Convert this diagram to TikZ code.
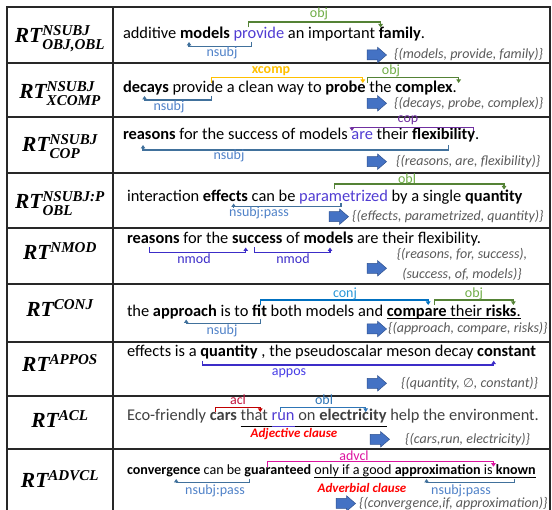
\documentclass[tikz,border=0pt]{standalone}
\usepackage{fontspec}
\usepackage{amsmath,amssymb}
\setmainfont{Carlito}
\newfontfamily\rtfont{Liberation Serif}
\newfontfamily\symfont{DejaVu Sans}
\usetikzlibrary{calc,arrows.meta}

\definecolor{gridc}{RGB}{40,40,40}
\definecolor{pred}{RGB}{80,60,210}
\definecolor{objln}{RGB}{84,130,53}
\definecolor{objtx}{RGB}{112,173,71}
\definecolor{subjln}{RGB}{65,113,156}
\definecolor{subjtx}{RGB}{80,130,200}
\definecolor{xcompc}{RGB}{255,192,0}
\definecolor{copc}{RGB}{112,48,160}
\definecolor{nmodc}{RGB}{60,45,200}
\definecolor{apposc}{RGB}{70,60,230}
\definecolor{conjln}{RGB}{0,112,192}
\definecolor{conjtx}{RGB}{40,150,215}
\definecolor{aclc}{RGB}{192,0,0}
\definecolor{acltx}{RGB}{192,20,60}
\definecolor{oblbl}{RGB}{46,117,182}
\definecolor{advclc}{RGB}{220,20,160}
\definecolor{clausered}{RGB}{255,0,0}
\definecolor{tripc}{RGB}{89,89,89}
\definecolor{barrow}{RGB}{68,114,196}
\definecolor{barrowln}{RGB}{47,82,143}
\definecolor{ecotext}{RGB}{64,64,64}

\newcommand\snt{\fontsize{16.4}{19}\selectfont}
\newcommand\sntsmall{\fontsize{14.1}{17}\selectfont}
\newcommand\lbl{\fontsize{14}{16}\selectfont}
\newcommand\trp{\fontsize{14}{16}\selectfont}
\newcommand\rtsz{\fontsize{21.5}{25}\selectfont}
\newcommand\rtb{\rtfont\bfseries\itshape}
\newcommand\RTsub[2]{{\rtb RT}$^{\text{\rtb #1}}_{\text{\rtb #2}}$}
\newcommand\RTsup[1]{{\rtb RT}$^{\text{\rtb #1}}$}
\newcommand\nullset{{\symfont\itshape\fontsize{12.5}{14}\selectfont ∅}}

\def\wspace{3.71}
% next word of a sentence, placed one space after the previous one
\newcommand\wn[4][w]{\node[#1] (#2) at ([xshift=\wspace]#3.base east) {#4};}
% a point at a fraction of a word's width, on its baseline
\newcommand\at[3]{\coordinate (#1) at ($(#2.base west)!#3!(#2.base east)$);}
% dependency bracket: style, from, to, end level, bar level
\newcommand\deparc[5]{\draw[#1] (#2 |- 0,#4) -- (#2 |- 0,#5) -| (#3 |- 0,#4);}
% thick block arrow whose tail centre is the named point
\newcommand\blockarrow[2]{\coordinate (#1) at (#2);
  \filldraw[blk] (#1) ++(0,-5) -- ++(10.5,0) -- ++(0,-2.8) -- ++(9,7.8)
    -- ++(-9,7.8) -- ++(0,-2.8) -- ++(-10.5,0) -- cycle;}

\tikzset{
  w/.style={inner sep=0pt, outer sep=0pt, anchor=base west, font=\snt},
  w8/.style={w, text=ecotext},
  w9/.style={w, font=\sntsmall},
  lab/.style={inner sep=0pt, font=\lbl},
  dep/.style={line width=1.2pt, -{Triangle[length=3.5pt,width=4.5pt]}},
  trip/.style={inner sep=0pt, anchor=west, font=\trp\itshape, text=tripc},
  blk/.style={fill=barrow, draw=barrowln, line width=0.5pt, line join=miter},
  rt/.style={anchor=base, inner sep=0pt, font=\rtsz},
  clause/.style={inner sep=0pt, font=\fontsize{13}{15}\selectfont\bfseries\itshape, text=clausered},
  rule/.style={draw=gridc, line width=1.1pt},
  uline/.style={line width=1pt},
}

\begin{document}
\begin{tikzpicture}[x=1pt, y=-1pt]
\useasboundingbox (0,0) rectangle (552,510);

% table frame
\draw[rule] (7,520) -- (7,7) -- (550,7) -- (550,520);
\draw[rule] (113,7) -- (113,520);
\foreach \yy in {63,117,173,228,284,342,396,449}
  \draw[rule] (7,\yy) -- (550,\yy);

% ---------------- row 1
\node[rt] (rt1) at (60,43) {\RTsub{NSUBJ}{OBJ,OBL}};
\node[w] (r1w1) at (123,39) {additive};
\wn{r1w2}{r1w1}{\textbf{models}}
\wn{r1w3}{r1w2}{\textcolor{pred}{provide}}
\wn{r1w4}{r1w3}{an important}
\wn{r1w5}{r1w4}{\textbf{family}.}
\at{r1a}{r1w3}{.3}
\at{r1b}{r1w5}{.04}
\at{r1c}{r1w3}{.36}
\at{r1d}{r1w2}{.18}
\deparc{dep,objln}{r1a}{r1b}{27.5}{22}
\deparc{dep,subjln}{r1c}{r1d}{42}{46.7}
\node[lab,text=objtx] (r1l1) at (319,14) {obj};
\node[lab,text=subjtx] (r1l2) at (222,53) {nsubj};
\blockarrow{r1ar}{367,55}
\node[trip] (r1t) at (394,55) {\{(models, provide, family)\}};

% ---------------- row 2
\node[rt] (rt2) at (60,99) {\RTsub{NSUBJ}{XCOMP}};
\node[w] (r2w1) at (123,93) {\textbf{decays}};
\wn{r2w2}{r2w1}{provide}
\wn{r2w3}{r2w2}{a clean way to}
\wn{r2w4}{r2w3}{\textbf{probe}}
\wn{r2w5}{r2w4}{the}
\wn{r2w6}{r2w5}{\textbf{complex}.}
\at{r2a}{r2w2}{.77}
\at{r2b}{r2w4}{.93}
\at{r2c}{r2w4}{1.05}
\at{r2d}{r2w6}{1.03}
\at{r2e}{r2w1}{.47}
\deparc{dep,xcompc}{r2a}{r2b}{83}{77.3}
\deparc{dep,objln}{r2c}{r2d}{83}{77.3}
\deparc{dep,subjln}{r2a}{r2e}{96}{100}
\node[lab,text=xcompc,font=\lbl\bfseries] (r2l1) at (271,70.7) {xcomp};
\node[lab,text=objtx] (r2l2) at (391,70.7) {obj};
\node[lab,text=subjtx] (r2l3) at (169,107.3) {nsubj};
\blockarrow{r2ar}{367,103.3}
\node[trip] (r2t) at (394,103.3) {\{(decays, probe, complex)\}};

% ---------------- row 3
\node[rt] (rt3) at (60,152) {\RTsub{NSUBJ}{COP}};
\node[w] (r3w1) at (123,139.5) {\textbf{reasons}};
\wn{r3w2}{r3w1}{for the success of models}
\wn{r3w3}{r3w2}{\textcolor{pred}{are}}
\wn{r3w4}{r3w3}{their}
\wn{r3w5}{r3w4}{\textbf{flexibility}.}
\at{r3a}{r3w5}{.91}
\at{r3b}{r3w3}{.02}
\at{r3c}{r3w5}{.54}
\at{r3d}{r3w1}{.38}
\deparc{dep,copc}{r3a}{r3b}{131}{127.3}
\deparc{dep,subjln}{r3c}{r3d}{145}{150}
\node[lab,text=copc] (r3l1) at (408,120) {cop};
\node[lab,text=subjtx] (r3l2) at (229,155.7) {nsubj};
\blockarrow{r3ar}{367,161.7}
\node[trip] (r3t) at (396,161.7) {\{(reasons, are, flexibility)\}};

% ---------------- row 4
\node[rt] (rt4) at (60,209) {\RTsub{NSUBJ:P}{OBL}};
\node[w] (r4w1) at (127,202) {interaction};
\wn{r4w2}{r4w1}{\textbf{effects}}
\wn{r4w3}{r4w2}{can be}
\wn{r4w4}{r4w3}{\textcolor{pred}{parametrized}}
\wn{r4w5}{r4w4}{by a single}
\wn{r4w6}{r4w5}{\textbf{quantity}}
\at{r4a}{r4w4}{.4}
\at{r4b}{r4w6}{.68}
\at{r4c}{r4w4}{.47}
\at{r4d}{r4w2}{.68}
\deparc{dep,objln}{r4a}{r4b}{189.5}{184}
\deparc{dep,subjln}{r4c}{r4d}{203.5}{206.7}
\node[lab,text=objtx] (r4l1) at (407,178.3) {obl};
\node[lab,text=subjtx] (r4l2) at (259,212.7) {nsubj:pass};
\blockarrow{r4ar}{329,216.7}
\node[trip] (r4t) at (352,216.7) {\{(effects, parametrized, quantity)\}};

% ---------------- row 5
\node[rt] (rt5) at (60,260) {\RTsup{NMOD}};
\node[w] (r5w1) at (127,244) {\textbf{reasons}};
\wn{r5w2}{r5w1}{for the}
\wn{r5w3}{r5w2}{\textbf{success}}
\wn{r5w4}{r5w3}{of}
\wn{r5w5}{r5w4}{\textbf{models}}
\wn{r5w6}{r5w5}{are their flexibility.}
\at{r5a}{r5w1}{.43}
\at{r5b}{r5w3}{.27}
\at{r5c}{r5w3}{.45}
\at{r5d}{r5w5}{.53}
\deparc{dep,nmodc}{r5a}{r5b}{247.5}{252.3}
\deparc{dep,nmodc}{r5c}{r5d}{247.5}{252.3}
\node[lab,text=nmodc] (r5l1) at (194,258.3) {nmod};
\node[lab,text=nmodc] (r5l2) at (293,258.3) {nmod};
\blockarrow{r5ar}{367,268.3}
\node[trip,anchor=center] (r5t1) at (462,254.5) {\{(reasons, for, success),};
\node[trip,anchor=center] (r5t2) at (462,274.5) {(success, of, models)\}};

% ---------------- row 6
\node[rt] (rt6) at (60,317) {\RTsup{CONJ}};
\node[w] (r6w1) at (127,316.5) {the};
\wn{r6w2}{r6w1}{\textbf{approach}}
\wn{r6w3}{r6w2}{is to}
\wn{r6w4}{r6w3}{\textbf{fit}}
\wn{r6w5}{r6w4}{both models and}
\wn{r6w6}{r6w5}{\textbf{compare}}
\wn{r6w7}{r6w6}{their}
\wn{r6w8}{r6w7}{\textbf{risks}.}
\at{r6a}{r6w4}{.55}
\at{r6b}{r6w6}{.69}
\at{r6c}{r6w6}{.8}
\at{r6d}{r6w8}{.79}
\at{r6e}{r6w2}{.52}
\deparc{dep,conjln}{r6a}{r6b}{305}{300}
\deparc{dep,objln}{r6c}{r6d}{305}{300}
\deparc{dep,subjln}{r6a}{r6e}{319.5}{323.3}
\draw[uline] (r6w6.base west |- 0,318.5) -- (r6w8.base east |- 0,318.5);
\node[lab,text=conjtx] (r6l1) at (345,294) {conj};
\node[lab,text=objtx] (r6l2) at (474,294) {obj};
\node[lab,text=subjtx] (r6l3) at (222,330.7) {nsubj};
\blockarrow{r6ar}{367,329}
\node[trip] (r6t) at (388,329) {\{(approach, compare, risks)\}};

% ---------------- row 7
\node[rt] (rt7) at (60,372) {\RTsup{APPOS}};
\node[w] (r7w1) at (127,356.5) {effects is a};
\wn{r7w2}{r7w1}{\textbf{quantity}}
\wn{r7w3}{r7w2}{, the pseudoscalar meson decay}
\wn{r7w4}{r7w3}{\textbf{constant}}
\at{r7a}{r7w2}{.04}
\at{r7b}{r7w4}{.28}
\deparc{dep,nmodc}{r7a}{r7b}{360.7}{365}
\node[lab,text=apposc] (r7l1) at (289,373.3) {appos};
\blockarrow{r7ar}{367,383.3}
\node[trip] (r7t) at (401,383.3) {\{(quantity, \nullset, constant)\}};

% ---------------- row 8
\node[rt] (rt8) at (60,428) {\RTsup{ACL}};
\node[w8] (r8w1) at (127,421) {Eco-friendly};
\wn[w8]{r8w2}{r8w1}{\textbf{cars}}
\wn[w8]{r8w3}{r8w2}{that}
\wn[w8]{r8w4}{r8w3}{\textcolor{pred}{run}}
\wn[w8]{r8w5}{r8w4}{on}
\wn[w8]{r8w6}{r8w5}{\textbf{electricity}}
\wn[w8]{r8w7}{r8w6}{help the environment.}
\at{r8a}{r8w2}{.2}
\at{r8b}{r8w3}{.72}
\at{r8c}{r8w4}{.4}
\at{r8d}{r8w6}{.69}
\deparc{dep,aclc}{r8a}{r8b}{412}{407.3}
\deparc{dep,oblbl}{r8c}{r8d}{412}{407.3}
\draw[uline] (r8w3.base west |- 0,427) -- (r8w6.base east |- 0,427);
\draw[uline,pred] (r8w4.base west |- 0,427) -- (r8w4.base east |- 0,427);
\node[lab,text=acltx] (r8l1) at (238,400) {acl};
\node[lab,text=oblbl] (r8l2) at (324,400) {obl};
\node[clause] (r8cl) at (294,434) {Adjective clause};
\blockarrow{r8ar}{370,439.3}
\node[trip] (r8t) at (405,439.3) {\{(cars,run, electricity)\}};

% ---------------- row 9
\node[rt] (rt9) at (60,488) {\RTsup{ADVCL}};
\def\wspace{3.19}
\node[w9] (r9w1) at (127,475) {\textbf{convergence}};
\wn[w9]{r9w2}{r9w1}{can be}
\wn[w9]{r9w3}{r9w2}{\textbf{guaranteed}}
\wn[w9]{r9w4}{r9w3}{only if a good}
\wn[w9]{r9w5}{r9w4}{\textbf{approximation}}
\wn[w9]{r9w6}{r9w5}{is}
\wn[w9]{r9w7}{r9w6}{\textbf{known}}
\at{r9a}{r9w3}{.35}
\at{r9b}{r9w6}{1.1}
\at{r9c}{r9w3}{.07}
\at{r9d}{r9w1}{.67}
\at{r9e}{r9w7}{.46}
\at{r9f}{r9w5}{.37}
\deparc{dep,advclc}{r9a}{r9b}{466.7}{461.7}
\deparc{dep,subjln}{r9c}{r9d}{479}{482.7}
\deparc{dep,subjln}{r9e}{r9f}{479}{482.7}
\draw[uline] (r9w4.base west |- 0,477.5) -- (r9w7.base east |- 0,477.5);
\node[lab,text=advclc] (r9l1) at (354,456) {advcl};
\node[lab,text=subjtx] (r9l2) at (215,490.7) {nsubj:pass};
\node[lab,text=subjtx] (r9l3) at (461,490.7) {nsubj:pass};
\node[clause] (r9cl) at (362,488.3) {Adverbial clause};
\blockarrow{r9ar}{336,503.5}
\node[trip] (r9t) at (359,503.5) {\{(convergence,\textit{if}, approximation)\}};
\end{tikzpicture}
\end{document}
